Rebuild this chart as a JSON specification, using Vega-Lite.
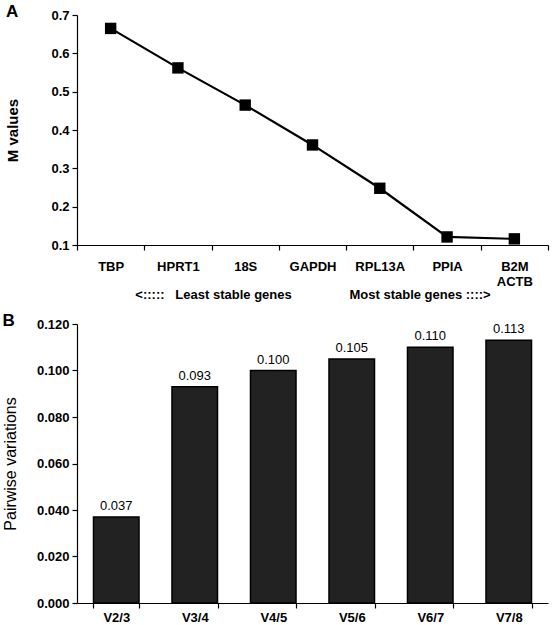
{
  "$schema": "https://vega.github.io/schema/vega-lite/v6.json",
  "padding": {"left": 2, "top": 3, "right": 5, "bottom": 0},
  "background": "white",
  "config": {
    "font": "Liberation Sans",
    "view": {"stroke": null},
    "axis": {"domainColor": "black", "tickColor": "black", "labelColor": "black", "titleColor": "black", "grid": false, "labelFontSize": 13, "labelFontWeight": "bold", "domainWidth": 1.2, "tickWidth": 1.2, "tickSize": 5}
  },
  "spacing": 11,
  "vconcat": [
    {
      "width": 471,
      "height": 230,
      "title": {"text": "A", "anchor": "start", "frame": "bounds", "fontSize": 17, "fontWeight": "bold", "offset": -12, "color": "black"},
      "data": {"values": [
        {"gene": "TBP", "M": 0.665},
        {"gene": "HPRT1", "M": 0.562},
        {"gene": "18S", "M": 0.465},
        {"gene": "GAPDH", "M": 0.361},
        {"gene": "RPL13A", "M": 0.248},
        {"gene": "PPIA", "M": 0.121},
        {"gene": "B2M ACTB", "M": 0.116}
      ]},
      "encoding": {
        "x": {"field": "gene", "type": "nominal", "bandPosition": 0.5,
          "sort": ["TBP", "HPRT1", "18S", "GAPDH", "RPL13A", "PPIA", "B2M ACTB"],
          "scale": {"type": "band", "paddingInner": 0, "paddingOuter": 0},
          "axis": {"labelAngle": 0, "tickBand": "extent", "labelPadding": 10, "labelExpr": "split(datum.label, ' ')", "labelLineHeight": 15,
            "title": "<:::::\u00a0\u00a0\u00a0Least stable genes\u00a0\u00a0\u00a0\u00a0\u00a0\u00a0\u00a0\u00a0\u00a0\u00a0\u00a0\u00a0\u00a0\u00a0\u00a0\u00a0Most stable genes ::::>", "titleFontSize": 13, "titleFontWeight": "bold", "titlePadding": 0}},
        "y": {"field": "M", "type": "quantitative",
          "scale": {"domain": [0.1, 0.7], "zero": false, "nice": false},
          "axis": {"values": [0.1, 0.2, 0.3, 0.4, 0.5, 0.6, 0.7], "format": ".1f", "title": "M values", "titleFontSize": 15, "titleFontWeight": "bold", "titlePadding": 30, "labelPadding": 3}}
      },
      "layer": [
        {"mark": {"type": "line", "color": "black", "strokeWidth": 2.2}},
        {"mark": {"type": "point", "shape": "square", "filled": true, "color": "black", "opacity": 1, "size": 130}}
      ]
    },
    {
      "width": 471,
      "height": 279,
      "title": {"text": "B", "anchor": "start", "frame": "bounds", "fontSize": 17, "fontWeight": "bold", "offset": -12, "color": "black"},
      "data": {"values": [
        {"pair": "V2/3", "v": 0.037},
        {"pair": "V3/4", "v": 0.093},
        {"pair": "V4/5", "v": 0.100},
        {"pair": "V5/6", "v": 0.105},
        {"pair": "V6/7", "v": 0.110},
        {"pair": "V7/8", "v": 0.113}
      ]},
      "encoding": {
        "x": {"field": "pair", "type": "nominal", "sort": null,
          "scale": {"paddingInner": 0.42, "paddingOuter": 0.21},
          "axis": {"labelAngle": 0, "tickBand": "extent", "title": null, "labelPadding": 3}},
        "y": {"field": "v", "type": "quantitative",
          "scale": {"domain": [0, 0.12], "nice": false},
          "axis": {"values": [0, 0.02, 0.04, 0.06, 0.08, 0.1, 0.12], "format": ".3f", "title": "Pairwise variations", "titleFontSize": 16, "titleFontWeight": "normal", "titlePadding": 18, "labelPadding": 3}}
      },
      "layer": [
        {"mark": {"type": "bar", "color": "#222222", "stroke": "black", "strokeWidth": 1.5}},
        {"mark": {"type": "text", "dy": -11, "fontSize": 13, "color": "black"},
          "encoding": {"text": {"field": "v", "type": "quantitative", "format": ".3f"}}}
      ]
    }
  ]
}
